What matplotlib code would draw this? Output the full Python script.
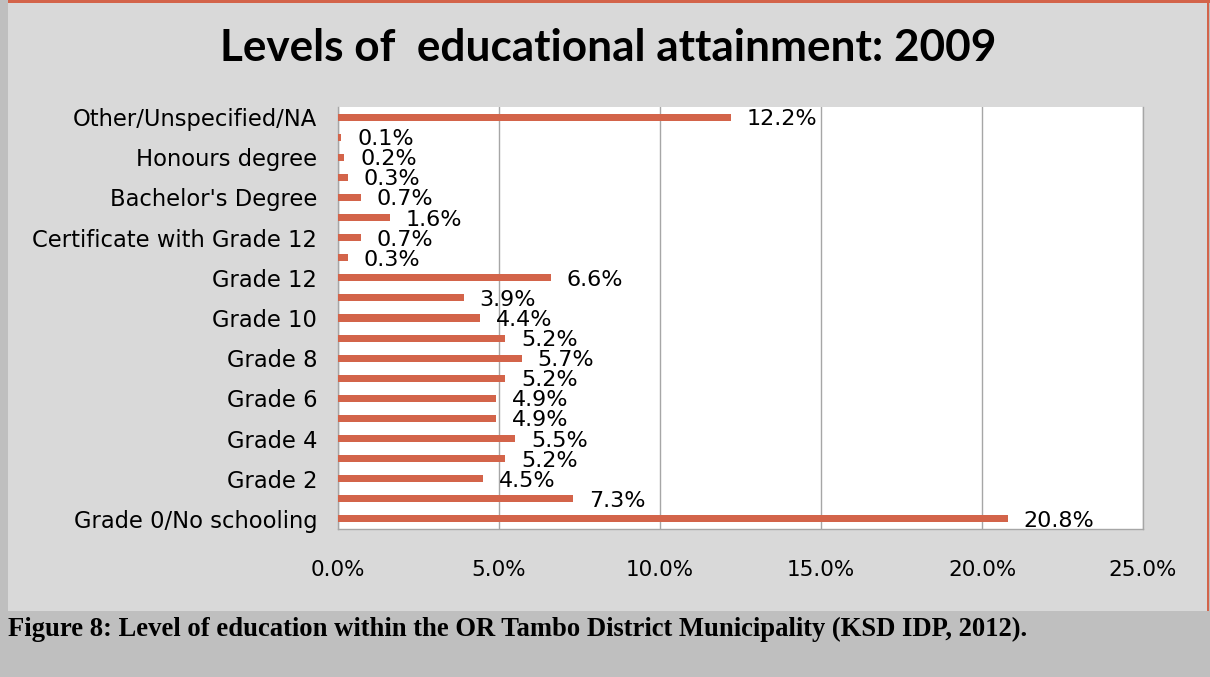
import matplotlib
matplotlib.use("Agg")
import matplotlib.pyplot as plt
from matplotlib.patches import Rectangle
from matplotlib.ticker import FuncFormatter

categories = [
    "Grade 0/No schooling", "Grade 1", "Grade 2", "Grade 3", "Grade 4", "Grade 5",
    "Grade 6", "Grade 7", "Grade 8", "Grade 9", "Grade 10", "Grade 11", "Grade 12",
    "Certificate with less than Grade 12", "Certificate with Grade 12",
    "Diploma with Grade 12", "Bachelor's Degree", "Bachelor's Degree and Diploma",
    "Honours degree", "Higher Degree (Masters/PhD)", "Other/Unspecified/NA",
]
values = [20.8, 7.3, 4.5, 5.2, 5.5, 4.9, 4.9, 5.2, 5.7, 5.2, 4.4, 3.9, 6.6,
          0.3, 0.7, 1.6, 0.7, 0.3, 0.2, 0.1, 12.2]
x_ticks = [0, 5, 10, 15, 20, 25]
title = "Levels of  educational attainment: 2009"
caption = "Figure 8: Level of education within the OR Tambo District Municipality (KSD IDP, 2012)."

W, H = 1210, 677
BAR = "#d3644a"
PANEL = "#d9d9d9"
OUTER = "#bfbfbf"
FONT = ["DejaVu Sans"]
TFONT = ["Lato", "DejaVu Sans"]

fig = plt.figure(figsize=(W / 100, H / 100), dpi=100, facecolor=OUTER)

# gray chart panel
fig.patches.append(Rectangle((8 / W, 1 - 611 / H), 1200 / W, 611 / H,
                             transform=fig.transFigure, facecolor=PANEL,
                             edgecolor="none", zorder=-3))
# orange top line and right line
fig.patches.append(Rectangle((8 / W, 1 - 3 / H), (W - 8) / W, 3 / H,
                             transform=fig.transFigure, facecolor=BAR,
                             edgecolor="none", zorder=-2))
fig.patches.append(Rectangle((1207 / W, 1 - 611 / H), 2 / W, 611 / H,
                             transform=fig.transFigure, facecolor=BAR,
                             edgecolor="none", zorder=-2))

ax = fig.add_axes([338 / W, 1 - 529 / H, (1143 - 338) / W, (529 - 107) / H])
ax.set_zorder(1)
ax.set_facecolor("white")

ypos = list(range(len(categories)))
ax.barh(ypos, values, height=0.35, color=BAR, zorder=3)
ax.set_ylim(-0.5, len(categories) - 0.5)
ax.set_xlim(0, 25)

ax.set_xticks(x_ticks)
ax.xaxis.set_major_formatter(FuncFormatter(lambda v, p: f"{v:.1f}%"))
ax.set_yticks(ypos[::2])
ax.set_yticklabels(categories[::2])

for lbl in ax.get_yticklabels():
    lbl.set_family(FONT)
    lbl.set_fontsize(16.3)
for lbl in ax.get_xticklabels():
    lbl.set_family(FONT)
    lbl.set_fontsize(15.5)

ax.tick_params(axis="y", length=0, pad=15)
ax.tick_params(axis="x", length=0, pad=22)

ax.grid(axis="x", color="#a6a6a6", linewidth=1.0, zorder=1)
ax.set_axisbelow(True)
for side in ["left", "bottom", "right"]:
    ax.spines[side].set_color("#a6a6a6")
    ax.spines[side].set_linewidth(1.0)
ax.spines["top"].set_visible(False)

for y, v in zip(ypos, values):
    ax.annotate(f"{v:.1f}%", xy=(v, y), xytext=(16, -2), textcoords="offset pixels",
                ha="left", va="center", fontsize=16, family=FONT, zorder=4)

fig.text(608 / W, 1 - 48 / H, title, ha="center", va="center",
         fontsize=31.8, fontweight="bold", family=TFONT)

fig.text(8 / W, 1 - 629 / H, caption, ha="left", va="center",
         fontsize=19.2, fontweight="bold", family=["Liberation Serif", "DejaVu Serif"])

fig.savefig("out.png", dpi=100, facecolor=OUTER)
